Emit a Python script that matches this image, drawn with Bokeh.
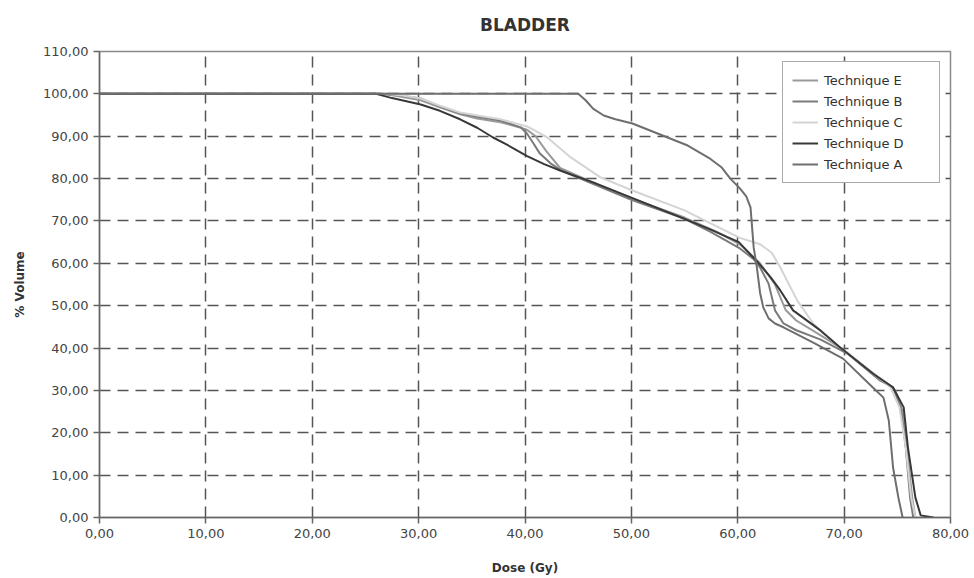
from bokeh.plotting import figure
from bokeh.models import Legend, LegendItem, FixedTicker
from bokeh.embed import file_html
from bokeh.resources import INLINE

title_text = "BLADDER"
x_label = "Dose (Gy)"
y_label = "% Volume"

x_ticks = [0, 10, 20, 30, 40, 50, 60, 70, 80]
x_tick_labels = ["0,00", "10,00", "20,00", "30,00", "40,00", "50,00", "60,00", "70,00", "80,00"]
y_ticks = [0, 10, 20, 30, 40, 50, 60, 70, 80, 90, 100, 110]
y_tick_labels = ["0,00", "10,00", "20,00", "30,00", "40,00", "50,00", "60,00", "70,00",
                 "80,00", "90,00", "100,00", "110,00"]

# Technique E
dose_E = [0, 26.5, 28.0, 30.2, 32.0, 33.9, 35.5, 37.7, 39.6, 40.2, 41.0, 42.0, 43.3, 46.0,
          50.0, 55.0, 58.0, 60.2, 62.1, 63.5, 64.5, 65.5, 67.8, 70.0, 73.0, 74.8, 75.5,
          75.9, 76.4, 76.7]
vol_E = [100, 100, 99.5, 98.5, 96.8, 95.2, 94.2, 93.3, 92.0, 91.5, 90.0, 86.5, 82.5, 79.5,
         75.3, 70.8, 67.5, 64.5, 60.0, 55.0, 49.0, 46.5, 43.0, 39.5, 33.5, 30.0, 25.0,
         16.5, 4.7, 0]

# Technique B
dose_B = [0, 26.5, 28.0, 30.2, 32.0, 33.9, 35.5, 37.7, 39.6, 40.2, 40.8, 41.4, 42.4, 43.5,
          45.2, 50.0, 55.0, 57.4, 60.2, 61.5, 62.1, 62.9, 63.5, 64.3, 65.5, 67.8, 70.3,
          73.4, 74.6, 75.3, 75.8, 76.2, 76.5]
vol_B = [100, 100, 99.7, 98.9, 97.0, 95.4, 94.6, 93.7, 92.1, 90.6, 88.3, 85.9, 83.6, 81.8,
         80.0, 75.0, 70.5, 67.5, 63.5, 61.0, 59.0, 55.2, 48.9, 45.8, 44.2, 42.0, 38.7,
         32.3, 30.7, 26.0, 16.5, 4.7, 0]

# Technique C
dose_C = [0, 27.0, 28.5, 30.2, 32.0, 33.9, 35.8, 37.7, 40.2, 42.1, 44.3, 47.1, 50.1, 55.0,
          57.4, 60.2, 62.1, 63.2, 64.0, 65.6, 67.1, 67.8, 69.6, 72.7, 74.3, 75.2, 75.8,
          76.3, 76.7]
vol_C = [100, 100, 99.6, 98.9, 97.2, 95.6, 94.8, 94.0, 92.3, 89.7, 85.0, 80.3, 77.2, 72.5,
         69.5, 66.0, 64.5, 62.5, 59.0, 51.2, 45.8, 44.0, 40.2, 34.0, 31.0, 26.0, 16.5,
         4.7, 0]

# Technique D
dose_D = [0, 26.0, 27.5, 30.2, 32.0, 33.9, 35.5, 37.0, 38.3, 40.2, 41.8, 43.3, 46.4, 50.0,
          55.0, 57.4, 60.1, 61.8, 63.1, 64.0, 65.2, 67.8, 69.6, 72.7, 74.6, 75.6, 76.0,
          76.7, 77.2, 78.4]
vol_D = [100, 100, 99.0, 97.5, 96.0, 94.0, 92.0, 89.7, 88.0, 85.3, 83.4, 81.9, 79.1, 75.5,
         70.5, 68.0, 65.0, 60.5, 56.7, 53.6, 48.9, 44.1, 40.2, 34.0, 30.7, 26.0, 16.5,
         4.7, 0.5, 0]

# Technique A
dose_A = [0, 45.0, 45.7, 46.4, 47.4, 48.5, 50.1, 52.7, 55.3, 57.4, 58.5, 59.3, 60.2, 60.8,
          61.2, 61.5, 61.8, 62.1, 62.4, 62.9, 63.5, 64.3, 67.1, 69.9, 72.7, 73.7, 74.2,
          74.6, 75.1, 75.5]
vol_A = [100, 100, 98.5, 96.5, 94.9, 94.0, 93.0, 90.4, 87.8, 84.7, 82.6, 80.0, 77.7, 75.8,
         73.2, 63.7, 59.0, 53.0, 49.6, 47.0, 45.8, 44.9, 41.3, 37.5, 30.7, 28.3, 22.9,
         11.8, 4.7, 0]

series = [
    ("Technique E", dose_E, vol_E, "#9a9a9a"),
    ("Technique B", dose_B, vol_B, "#7a7a7a"),
    ("Technique C", dose_C, vol_C, "#d4d4d4"),
    ("Technique D", dose_D, vol_D, "#383838"),
    ("Technique A", dose_A, vol_A, "#6e6e6e"),
]

FONT = "DejaVu Sans"

p = figure(width=974, height=578, output_backend="svg", toolbar_location=None,
           x_range=(0, 80), y_range=(0, 110),
           min_border_left=99, min_border_right=24, min_border_top=51, min_border_bottom=61)

p.title.text = title_text
p.title.align = "center"
p.title.text_font = FONT
p.title.text_font_size = "17px"
p.title.text_font_style = "bold"
p.title.text_color = "#333333"
p.title.standoff = 29
p.title.vertical_align = "top"

p.outline_line_color = "#8a8a8a"
p.outline_line_width = 1.5
p.background_fill_color = "white"
p.border_fill_color = "white"

for ax, ticks, labels in ((p.xaxis[0], x_ticks, x_tick_labels), (p.yaxis[0], y_ticks, y_tick_labels)):
    ax.ticker = FixedTicker(ticks=ticks)
    ax.major_label_overrides = {t: l for t, l in zip(ticks, labels)}
    ax.minor_tick_line_color = None
    ax.major_tick_in = 0
    ax.major_tick_out = 6
    ax.axis_line_color = "#666666"
    ax.axis_line_width = 1.5
    ax.major_tick_line_color = "#666666"
    ax.major_tick_line_width = 1.5
    ax.major_label_text_font = FONT
    ax.major_label_text_font_size = "13px"
    ax.major_label_text_color = "#444444"
    ax.axis_label_text_font = FONT
    ax.axis_label_text_font_size = "12px"
    ax.axis_label_text_font_style = "bold"
    ax.axis_label_text_color = "#333333"

p.xaxis.axis_label = x_label
p.yaxis.axis_label = y_label
p.xaxis.axis_label_standoff = 20
p.yaxis.axis_label_standoff = 13

p.grid.grid_line_color = "#555555"
p.grid.grid_line_width = 1.5
p.grid.grid_line_dash = "11 7"

items = []
for name, d, v, c in series:
    r = p.line(d, v, line_color=c, line_width=2)
    items.append(LegendItem(label=name, renderers=[r]))

legend = Legend(items=items, location="top_right")
legend.label_text_font = FONT
legend.label_text_font_size = "13px"
legend.label_text_color = "#333333"
legend.border_line_color = "#555555"
legend.border_line_width = 1.5
legend.background_fill_color = "white"
legend.background_fill_alpha = 1.0
legend.glyph_width = 26
legend.glyph_height = 18
legend.label_height = 18
legend.label_width = 106
legend.label_standoff = 6
legend.spacing = 3
legend.padding = 9
legend.margin = 10
p.add_layout(legend)

open("out.html", "w").write(file_html(p, INLINE))
